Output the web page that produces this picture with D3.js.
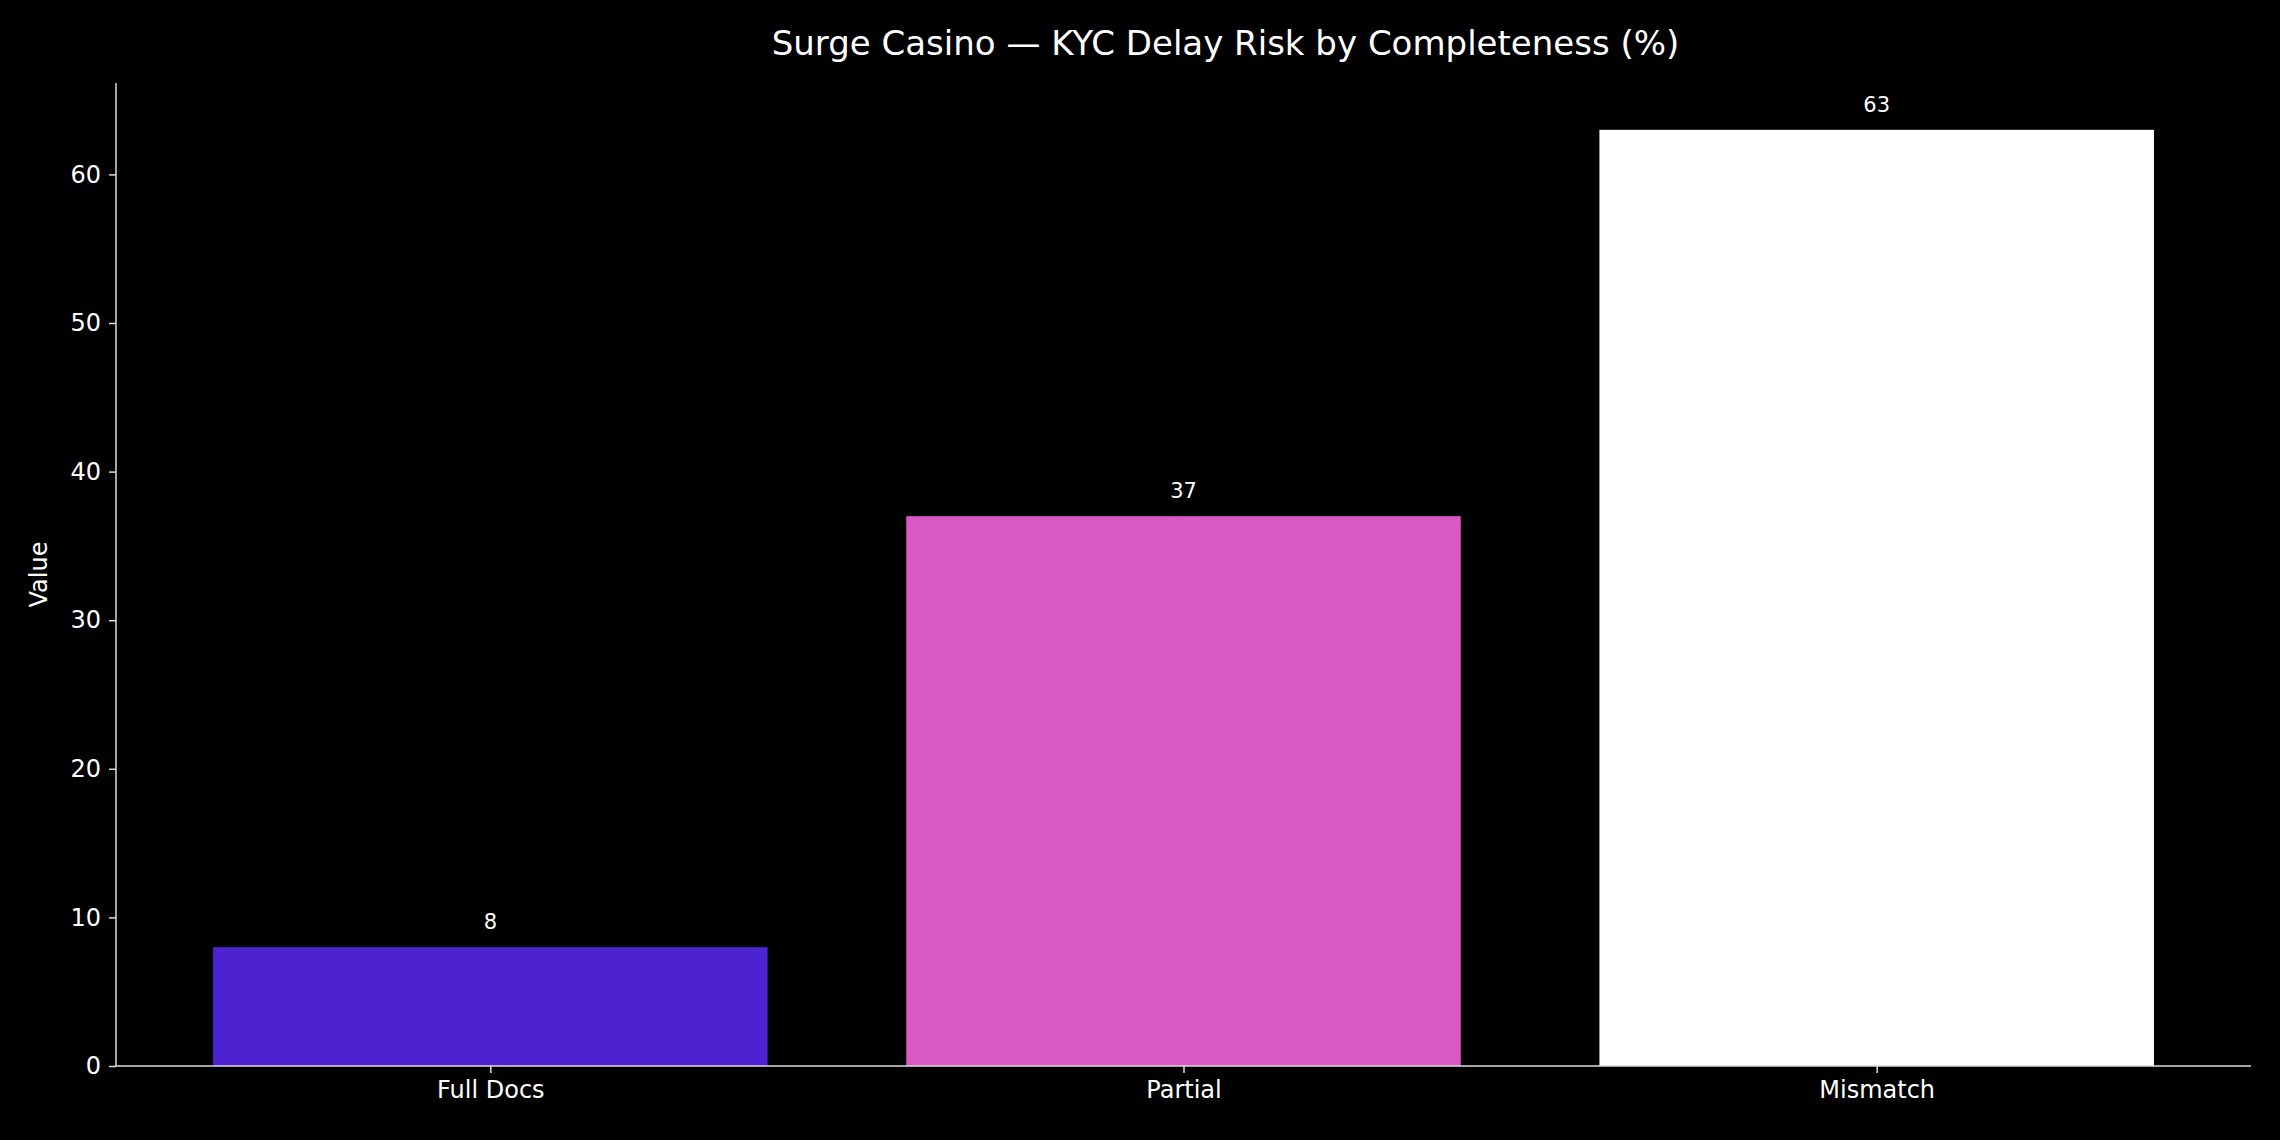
<!DOCTYPE html>
<html><head><meta charset="utf-8">
<script src="https://cdn.jsdelivr.net/npm/d3@7"></script>
<style>html,body{margin:0;background:#000;}svg{display:block;font-family:"DejaVu Sans",sans-serif;}</style>
</head><body>
<script>
const categories = ["Full Docs", "Partial", "Mismatch"];
const values = [8, 37, 63];
const colors = ["#4d22d0", "#d958c4", "#ffffff"];
const yTicks = [0, 10, 20, 30, 40, 50, 60];
const title = "Surge Casino — KYC Delay Risk by Completeness (%)";

const W = 2280, H = 1140;
const m = {l: 116, r: 2251, t: 83, b: 1066};
const svg = d3.select("body").append("svg").attr("width", W).attr("height", H);
svg.append("rect").attr("width", W).attr("height", H).attr("fill", "#000");

const x = d3.scaleLinear().domain([-0.54, 2.54]).range([m.l, m.r]);
const y = d3.scaleLinear().domain([0, 66.15]).range([m.b, m.t]);
const bw = x(0.8) - x(0);

svg.selectAll("rect.bar").data(values).enter().append("rect")
  .attr("x", (d, i) => x(i) - bw / 2).attr("width", bw)
  .attr("y", d => y(d)).attr("height", d => y(0) - y(d))
  .attr("fill", (d, i) => colors[i]);

svg.selectAll("text.val").data(values).enter().append("text")
  .attr("x", (d, i) => x(i)).attr("y", d => y(d) - 18)
  .attr("text-anchor", "middle").attr("fill", "#fff").attr("font-size", 21)
  .text(d => d);

const ya = svg.append("g").attr("transform", `translate(${m.l},0)`)
  .call(d3.axisLeft(y).tickValues(yTicks).tickSize(7).tickPadding(8));
const xa = svg.append("g").attr("transform", `translate(0,${m.b})`)
  .call(d3.axisBottom(x).tickValues([0, 1, 2]).tickFormat(i => categories[i]).tickSize(7).tickPadding(8));
[ya, xa].forEach(a => {
  a.selectAll("path,line").attr("stroke", "#ddd").attr("stroke-width", 1.5);
  a.selectAll("text").attr("fill", "#fff").attr("font-size", 24).attr("font-family", "DejaVu Sans, sans-serif");
});
ya.select("path").attr("d", `M0,${m.b}V${m.t}`);
xa.select("path").attr("d", `M${m.l},0H${m.r}`);

svg.append("text").attr("transform", `translate(40,${(m.t + m.b) / 2}) rotate(-90)`)
  .attr("text-anchor", "middle").attr("dominant-baseline", "middle")
  .attr("fill", "#fff").attr("font-size", 24).text("Value");

svg.append("text").attr("x", (m.l + m.r) / 2 + 42).attr("y", 55)
  .attr("text-anchor", "middle").attr("fill", "#fff").attr("font-size", 34).text(title);
</script>
</body></html>
